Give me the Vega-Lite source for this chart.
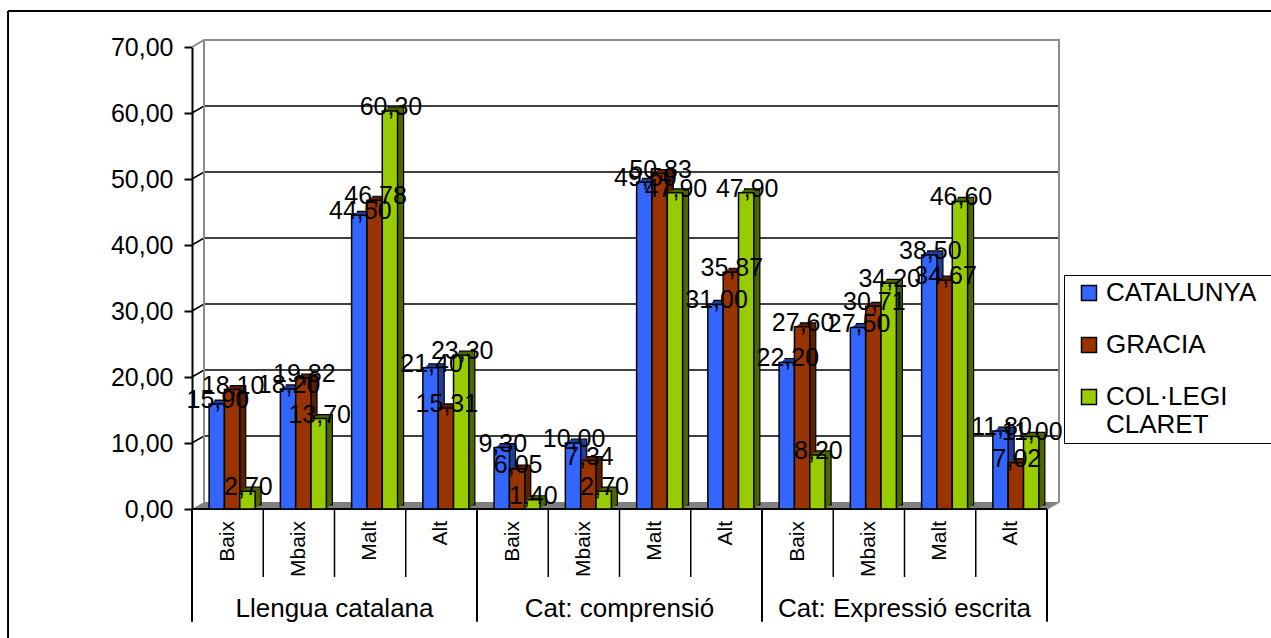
{
"$schema":"https://vega.github.io/schema/vega-lite/v6.json",
"width":867,"height":462,
"autosize":{"type":"none"},
"padding":{"left":192,"top":47,"right":212,"bottom":129},
"background":"white",
"config":{"view":{"stroke":null},"font":"Liberation Sans","locale":{"number":{"decimal":",","thousands":".","grouping":[3],"currency":["","€"]}}},
"datasets":{
"bars":[
{"cell":"L-Baix","serie":"CATALUNYA","value":15.90},{"cell":"L-Baix","serie":"GRACIA","value":18.10},{"cell":"L-Baix","serie":"COL·LEGI CLARET","value":2.70},
{"cell":"L-Mbaix","serie":"CATALUNYA","value":18.20},{"cell":"L-Mbaix","serie":"GRACIA","value":19.82},{"cell":"L-Mbaix","serie":"COL·LEGI CLARET","value":13.70},
{"cell":"L-Malt","serie":"CATALUNYA","value":44.50},{"cell":"L-Malt","serie":"GRACIA","value":46.78},{"cell":"L-Malt","serie":"COL·LEGI CLARET","value":60.30},
{"cell":"L-Alt","serie":"CATALUNYA","value":21.40},{"cell":"L-Alt","serie":"GRACIA","value":15.31},{"cell":"L-Alt","serie":"COL·LEGI CLARET","value":23.30},
{"cell":"C-Baix","serie":"CATALUNYA","value":9.30},{"cell":"C-Baix","serie":"GRACIA","value":6.05},{"cell":"C-Baix","serie":"COL·LEGI CLARET","value":1.40},
{"cell":"C-Mbaix","serie":"CATALUNYA","value":10.00},{"cell":"C-Mbaix","serie":"GRACIA","value":7.34},{"cell":"C-Mbaix","serie":"COL·LEGI CLARET","value":2.70},
{"cell":"C-Malt","serie":"CATALUNYA","value":49.50},{"cell":"C-Malt","serie":"GRACIA","value":50.83},{"cell":"C-Malt","serie":"COL·LEGI CLARET","value":47.90},
{"cell":"C-Alt","serie":"CATALUNYA","value":31.00},{"cell":"C-Alt","serie":"GRACIA","value":35.87},{"cell":"C-Alt","serie":"COL·LEGI CLARET","value":47.90},
{"cell":"E-Baix","serie":"CATALUNYA","value":22.20},{"cell":"E-Baix","serie":"GRACIA","value":27.60},{"cell":"E-Baix","serie":"COL·LEGI CLARET","value":8.20},
{"cell":"E-Mbaix","serie":"CATALUNYA","value":27.50},{"cell":"E-Mbaix","serie":"GRACIA","value":30.71},{"cell":"E-Mbaix","serie":"COL·LEGI CLARET","value":34.20},
{"cell":"E-Malt","serie":"CATALUNYA","value":38.50},{"cell":"E-Malt","serie":"GRACIA","value":34.67},{"cell":"E-Malt","serie":"COL·LEGI CLARET","value":46.60},
{"cell":"E-Alt","serie":"CATALUNYA","value":11.80},{"cell":"E-Alt","serie":"GRACIA","value":7.02},{"cell":"E-Alt","serie":"COL·LEGI CLARET","value":11.00}
],
"cells":[
{"cell":"L-Baix","level":"Baix"},{"cell":"L-Mbaix","level":"Mbaix"},{"cell":"L-Malt","level":"Malt"},{"cell":"L-Alt","level":"Alt"},
{"cell":"C-Baix","level":"Baix"},{"cell":"C-Mbaix","level":"Mbaix"},{"cell":"C-Malt","level":"Malt"},{"cell":"C-Alt","level":"Alt"},
{"cell":"E-Baix","level":"Baix"},{"cell":"E-Mbaix","level":"Mbaix"},{"cell":"E-Malt","level":"Malt"},{"cell":"E-Alt","level":"Alt"}
],
"floor":[{"u":0,"a":0,"b":0},{"u":1,"a":1.06,"b":0},{"u":71.25,"a":1.06,"b":0},{"u":72.25,"a":1.06,"b":1.06}],
"grid":[
{"k":10,"u":0,"v":10},{"k":10,"u":1,"v":11.06},{"k":10,"u":72.25,"v":11.06},
{"k":20,"u":0,"v":20},{"k":20,"u":1,"v":21.06},{"k":20,"u":72.25,"v":21.06},
{"k":30,"u":0,"v":30},{"k":30,"u":1,"v":31.06},{"k":30,"u":72.25,"v":31.06},
{"k":40,"u":0,"v":40},{"k":40,"u":1,"v":41.06},{"k":40,"u":72.25,"v":41.06},
{"k":50,"u":0,"v":50},{"k":50,"u":1,"v":51.06},{"k":50,"u":72.25,"v":51.06},
{"k":60,"u":0,"v":60},{"k":60,"u":1,"v":61.06},{"k":60,"u":72.25,"v":61.06}
],
"walls":[
{"k":"a","u":1,"v":1.06},{"k":"a","u":1,"v":71.06},
{"k":"b","u":0,"v":70},{"k":"b","u":1,"v":71.06},{"k":"b","u":72.25,"v":71.06},{"k":"b","u":72.25,"v":1.06},{"k":"b","u":71.25,"v":0}
],
"inner":[{"u":5.9375},{"u":11.875},{"u":17.8125},{"u":29.6875},{"u":35.625},{"u":41.5625},{"u":53.4375},{"u":59.375},{"u":65.3125}],
"outer":[{"u":0},{"u":23.75},{"u":47.5},{"u":71.25}],
"groups":[{"u":11.875,"group":"Llengua catalana"},{"u":35.625,"group":"Cat: comprensió"},{"u":59.375,"group":"Cat: Expressió escrita"}]
},
"resolve":{"scale":{"x":"independent"}},
"layer":[
{"layer":[
{"data":{"name":"floor"},"mark":{"type":"area","fill":"#808080"},
 "encoding":{"x":{"field":"u","type":"quantitative","axis":null,"scale":{"domain":[0,72.25],"range":[0,867],"nice":false,"zero":false}},
 "y":{"field":"a","type":"quantitative","scale":{"domain":[0,70],"nice":false,"zero":false},"axis":{"title":null,"values":[0,10,20,30,40,50,60,70],"format":".2f","labelFont":"Liberation Sans","labelFontSize":25,"labelColor":"black","labelPadding":11,"tickSize":8,"tickColor":"black","tickWidth":2,"domainColor":"black","domainWidth":2,"grid":false}},
 "y2":{"field":"b"}}},
{"data":{"name":"grid"},"mark":{"type":"line","color":"black","strokeWidth":1.5},
 "encoding":{"x":{"field":"u","type":"quantitative","axis":null},"y":{"field":"v","type":"quantitative"},"detail":{"field":"k"}}},
{"data":{"name":"walls"},"mark":{"type":"line","color":"#8c8c8c","strokeWidth":2},
 "encoding":{"x":{"field":"u","type":"quantitative","axis":null},"y":{"field":"v","type":"quantitative"},"detail":{"field":"k"},"order":{"field":"idx"}}},
{"data":{"name":"inner"},"mark":{"type":"rule","color":"black","strokeWidth":1.5},
 "encoding":{"x":{"field":"u","type":"quantitative","axis":null},"y":{"datum":0},"y2":{"datum":-10.3}}},
{"data":{"name":"outer"},"mark":{"type":"rule","color":"black","strokeWidth":2},
 "encoding":{"x":{"field":"u","type":"quantitative","axis":null},"y":{"datum":0},"y2":{"datum":-17.1}}},
{"data":{"values":[{"a":0,"b":71.25}]},"mark":{"type":"rule","color":"black","strokeWidth":2},
 "encoding":{"x":{"field":"a","type":"quantitative","axis":null},"x2":{"field":"b"},"y":{"datum":0}}},
{"data":{"values":[{"a":-15.33,"b":90}]},"mark":{"type":"rule","color":"black","strokeWidth":2},
 "encoding":{"x":{"field":"a","type":"quantitative","axis":null},"x2":{"field":"b"},"y":{"datum":75.45}}},
{"data":{"values":[{"a":-15.33}]},"mark":{"type":"rule","color":"black","strokeWidth":2},
 "encoding":{"x":{"field":"a","type":"quantitative","axis":null},"y":{"datum":75.45},"y2":{"datum":-20}}},
{"data":{"name":"groups"},"mark":{"type":"text","font":"Liberation Sans","fontSize":26,"color":"black","baseline":"middle","align":"center"},
 "encoding":{"x":{"field":"u","type":"quantitative","axis":null},"y":{"datum":-15.1},"text":{"field":"group"}}}
]},
{"data":{"name":"bars"},
 "resolve":{"scale":{"xOffset":"independent","color":"independent"},"legend":{"color":"independent"}},
 "layer":[
{"mark":{"type":"bar","stroke":"black","strokeWidth":1.2,"yOffset":-4},
 "encoding":{"x":{"field":"cell","type":"nominal","sort":null,"axis":null,"scale":{"range":[0,855],"paddingInner":0.354,"paddingOuter":0.177}},
 "xOffset":{"field":"serie","type":"nominal","sort":null,"scale":{"range":[10.5,56.5]}},
 "y":{"field":"value","type":"quantitative"},
 "color":{"field":"serie","type":"nominal","legend":null,"scale":{"domain":["CATALUNYA","GRACIA","COL·LEGI CLARET"],"range":["#1f3d99","#5c1f00","#4d6600"]}}}},
{"mark":{"type":"bar","yOffset":-2.7},
 "encoding":{"x":{"field":"cell","type":"nominal","sort":null,"axis":null},
 "xOffset":{"field":"serie","type":"nominal","sort":null,"scale":{"range":[8.5,54.5]}},
 "y":{"field":"value","type":"quantitative"},
 "color":{"field":"serie","type":"nominal","legend":null,"scale":{"domain":["CATALUNYA","GRACIA","COL·LEGI CLARET"],"range":["#1f3d99","#5c1f00","#4d6600"]}}}},
{"mark":{"type":"bar","yOffset":-1.3},
 "encoding":{"x":{"field":"cell","type":"nominal","sort":null,"axis":null},
 "xOffset":{"field":"serie","type":"nominal","sort":null,"scale":{"range":[6.5,52.5]}},
 "y":{"field":"value","type":"quantitative"},
 "color":{"field":"serie","type":"nominal","legend":null,"scale":{"domain":["CATALUNYA","GRACIA","COL·LEGI CLARET"],"range":["#1f3d99","#5c1f00","#4d6600"]}}}},
{"mark":{"type":"bar","stroke":"black","strokeWidth":1.5},
 "encoding":{"x":{"field":"cell","type":"nominal","sort":null,"axis":null},
 "xOffset":{"field":"serie","type":"nominal","sort":null,"scale":{"range":[4.5,50.5]}},
 "y":{"field":"value","type":"quantitative"},
 "color":{"field":"serie","type":"nominal","scale":{"domain":["CATALUNYA","GRACIA","COL·LEGI CLARET"],"range":["#3366ff","#993300","#99cc00"]},
 "legend":{"orient":"none","legendX":872,"legendY":228,"title":"\u00a0\u00a0\u00a0","titleOrient":"right","titleFontSize":26,"titlePadding":30,"symbolType":"square","symbolSize":225,"symbolStrokeColor":"black","symbolStrokeWidth":1.5,"symbolOffset":7,"labelFont":"Liberation Sans","labelFontSize":26,"labelColor":"black","labelLimit":400,"labelOffset":4,"padding":5,"rowPadding":26,"strokeColor":"black","fillColor":"white","labelExpr":"datum.label == 'COL·LEGI CLARET' ? ['COL·LEGI','CLARET'] : datum.label","labelLineHeight":26}}}},
{"mark":{"type":"text","font":"Liberation Sans","fontSize":25,"color":"black","baseline":"alphabetic","align":"center","dy":4},
 "encoding":{"x":{"field":"cell","type":"nominal","sort":null,"axis":null},
 "xOffset":{"field":"serie","type":"nominal","sort":null,"scale":{"range":[5.5,51.5]}},
 "y":{"field":"value","type":"quantitative"},
 "text":{"field":"value","type":"quantitative","format":".2f"}}},
{"data":{"name":"cells"},"mark":{"type":"text","font":"Liberation Sans","fontSize":21,"color":"black","angle":270,"align":"right","baseline":"middle"},
 "encoding":{"x":{"field":"cell","type":"nominal","sort":null,"axis":null},"y":{"datum":-1.82},"text":{"field":"level"}}}
]}
]
}
